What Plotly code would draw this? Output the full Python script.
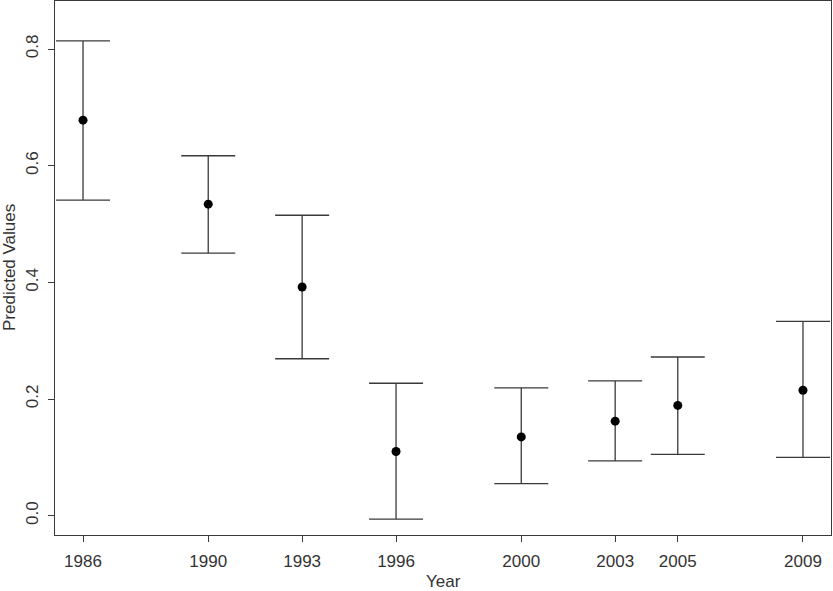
import plotly.graph_objects as go

years = [1986, 1990, 1993, 1996, 2000, 2003, 2005, 2009]
predicted = [0.678, 0.534, 0.392, 0.110, 0.135, 0.162, 0.189, 0.215]
upper = [0.814, 0.617, 0.515, 0.227, 0.219, 0.231, 0.272, 0.333]
lower = [0.541, 0.450, 0.269, -0.006, 0.055, 0.094, 0.105, 0.100]
y_ticks = [0.0, 0.2, 0.4, 0.6, 0.8]
y_tick_labels = ["0.0", "0.2", "0.4", "0.6", "0.8"]

err_plus = [u - p for u, p in zip(upper, predicted)]
err_minus = [p - l for p, l in zip(predicted, lower)]

FONT = "Liberation Sans, Arial, sans-serif"
LINE = "#3a3a3a"
TEXT = "#333333"

fig = go.Figure()
fig.add_trace(go.Scatter(
    x=years, y=predicted, mode="markers",
    marker=dict(color="black", size=9),
    error_y=dict(type="data", symmetric=False, array=err_plus, arrayminus=err_minus,
                 color=LINE, thickness=1.3, width=27),
    showlegend=False, hoverinfo="x+y",
))

fig.update_layout(
    width=833, height=591,
    margin=dict(l=55, r=2, t=1, b=56),
    paper_bgcolor="white", plot_bgcolor="white",
    font=dict(family=FONT, size=17, color=TEXT),
    xaxis=dict(
        range=[1985.105, 2009.895], tickmode="array", tickvals=years,
        ticktext=[str(y) for y in years],
        showgrid=False, zeroline=False, showline=True, mirror=True,
        linecolor=LINE, linewidth=1.3, ticks="outside", ticklen=6,
        tickcolor=LINE, tickwidth=1.3, ticklabelstandoff=4,
        tickfont=dict(family=FONT, size=17, color=TEXT),
    ),
    yaxis=dict(
        range=[-0.0331, 0.8823], tickmode="array", tickvals=y_ticks,
        ticktext=y_tick_labels, tickangle=-90,
        showgrid=False, zeroline=False, showline=True, mirror=True,
        linecolor=LINE, linewidth=1.3, ticks="outside", ticklen=6,
        tickcolor=LINE, tickwidth=1.3, ticklabelstandoff=3,
        tickfont=dict(family=FONT, size=17, color=TEXT),
    ),
    annotations=[
        dict(text="Year", xref="paper", yref="paper", x=0.5, y=0, yshift=-46,
             showarrow=False, xanchor="center", yanchor="middle",
             font=dict(family=FONT, size=17, color=TEXT)),
        dict(text="Predicted Values", xref="paper", yref="paper", x=0, y=0.5,
             xshift=-46, textangle=-90, showarrow=False,
             xanchor="center", yanchor="middle",
             font=dict(family=FONT, size=17, color=TEXT)),
    ],
)

fig.write_html(
    "out.html",
    config={"displayModeBar": False},
    post_script="document.body.style.margin='0';document.body.style.padding='0';document.body.style.overflow='hidden';",
)
